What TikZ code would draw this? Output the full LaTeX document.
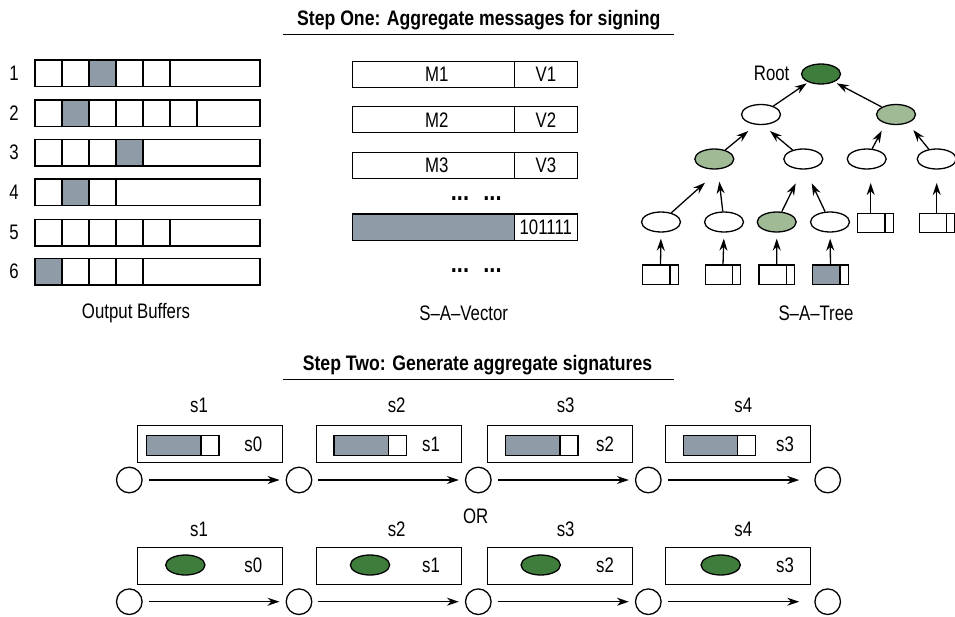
\documentclass[tikz,border=0pt]{standalone}
\usepackage{fontspec}
\setmainfont[FakeStretch=0.8, BoldFeatures={FakeStretch=0.84}]{Liberation Sans}
\usetikzlibrary{arrows.meta,shapes.geometric}
\definecolor{bufgray}{RGB}{143,156,168}
\definecolor{leafgreen}{RGB}{160,186,150}
\definecolor{rootgreen}{RGB}{62,125,60}
\begin{document}
\begin{tikzpicture}[x=1pt,y=-1pt,line width=1.3pt,
  txt/.style={inner sep=0pt, font=\fontsize{21}{23}\selectfont},
  head/.style={inner sep=0pt, font=\fontsize{21}{23}\selectfont\bfseries},
  dotgrp/.style={inner sep=0pt, anchor=base, font=\fontsize{26}{26}\selectfont\bfseries},
  arr/.style={-{Stealth[length=12pt,width=8pt]}},
  oval/.style={draw, ellipse, minimum width=39pt, minimum height=20pt, inner sep=0pt, fill=white},
  ovallight/.style={oval, fill=leafgreen},
  ovaldark/.style={oval, fill=rootgreen},
  leaf/.style={draw, fill=white, minimum width=35.6pt, minimum height=19.5pt, inner sep=0pt,
    path picture={\draw ([xshift=-8.4pt]path picture bounding box.north east) -- ([xshift=-8.4pt]path picture bounding box.south east);}},
  leafshaded/.style={draw, fill=white, minimum width=35.6pt, minimum height=19.5pt, inner sep=0pt,
    path picture={\fill[bufgray] (path picture bounding box.north west) rectangle ([xshift=-8.4pt]path picture bounding box.south east);
      \draw ([xshift=-8.4pt]path picture bounding box.north east) -- ([xshift=-8.4pt]path picture bounding box.south east);}},
  sigbar/.style={draw, fill=white, minimum width=72.3pt, minimum height=20pt, inner sep=0pt,
    path picture={\fill[bufgray] (path picture bounding box.north west) rectangle ([xshift=-18pt]path picture bounding box.south east);
      \draw ([xshift=-18pt]path picture bounding box.north east) -- ([xshift=-18pt]path picture bounding box.south east);}},
  sigbox/.style={draw, minimum width=145pt, minimum height=36.6pt, inner sep=0pt},
  sigoval/.style={draw, ellipse, fill=rootgreen, minimum width=39.3pt, minimum height=20pt, inner sep=0pt},
  ring/.style={draw, circle, minimum size=25.6pt, inner sep=0pt}
]
\useasboundingbox (0,0) rectangle (955,616);

% ---------- Step one heading ----------
\node[head] (h1) at (478.8,20) {Step One: Aggregate messages for signing};
\draw (283.3,34.3) -- (674,34.3);

% ---------- Output buffers ----------
\foreach \r/\t/\n/\s in {1/60/5/3, 2/100/6/2, 3/139.5/4/4, 4/179/3/2, 5/219.5/5/0, 6/258.5/4/1} {
  \node[txt] (num\r) at (14,\t+13.25) {\r};
  \ifnum\s>0
    \fill[bufgray] (8+27*\s,\t) rectangle ++(27,26.5);
  \fi
  \draw (35,\t) rectangle (260,\t+26.5);
  \foreach \k in {1,...,\n} \draw (35+27*\k,\t) -- ++(0,26.5);
}
\node[txt] (bufcap) at (136,313) {Output Buffers};

% ---------- S-A-Vector ----------
\foreach \i/\t in {1/61.7, 2/106.7, 3/152.3} {
  \draw (352.7,\t) rectangle (577.3,\t+26);
  \draw (514.3,\t) -- ++(0,26);
  \node[txt] (m\i) at (436.7,\t+13) {M\i};
  \node[txt] (v\i) at (546,\t+13) {V\i};
}
\filldraw[fill=bufgray] (352.7,214) rectangle (514.3,240.7);
\draw (514.3,214) rectangle (577.3,240.7);
\node[txt] (vec) at (545.8,227.3) {101111};
\node[dotgrp] (d1) at (460,200.5) {...};
\node[dotgrp] (d2) at (492.5,200.5) {...};
\node[dotgrp] (d3) at (460,272.5) {...};
\node[dotgrp] (d4) at (492.5,272.5) {...};
\node[txt] (veccap) at (463.7,313) {S--A--Vector};

% ---------- S-A-Tree ----------
\node[ovaldark] (root) at (821,74) {};
\node[txt, anchor=east] (rootlbl) at (790,73) {Root};
\node[oval] (la) at (761,114.5) {};
\node[ovallight] (lb) at (896,114.5) {};
\node[ovallight] (na) at (714.3,159) {};
\node[oval] (nb) at (803.3,159) {};
\node[oval] (nc) at (866.7,159) {};
\node[oval] (nd) at (936.7,159) {};
\node[oval] (ne) at (661,222) {};
\node[oval] (nf) at (724,222) {};
\node[ovallight] (ng) at (776.7,222) {};
\node[oval] (nh) at (830,222) {};
\node[leaf] (bc) at (875.5,223) {};
\node[leaf] (bd) at (937.2,223) {};
\node[leaf] (be) at (660.5,274.8) {};
\node[leaf] (bf) at (723,274.8) {};
\node[leaf] (bg) at (776.8,274.8) {};
\node[leafshaded] (bh) at (830.5,274.8) {};
\node[txt] (treecap) at (816,313) {S--A--Tree};

% arrow tips stop short of the parent
\coordinate (tea) at (705,182.7);
\coordinate (tfa) at (719.3,181.7);
\coordinate (tgb) at (795.7,183.3);
\coordinate (thb) at (811.7,183.3);
\coordinate (tcc) at (870.7,183);
\coordinate (tdd) at (936.7,183);
\coordinate (tal) at (748.3,131);
\coordinate (tbl) at (770,131);
\coordinate (tcr) at (881.7,130.7);
\coordinate (tdr) at (913.3,130);
\coordinate (tlr) at (806.7,83.3);
\coordinate (trr) at (836.7,83.3);

\foreach \b/\n in {be/ne, bf/nf, bg/ng, bh/nh}
  \draw[arr, shorten >=6pt] (\b.north) -- (\n.south);
\draw[arr] (bc.north -| tcc) -- (tcc);
\draw[arr] (bd.north -| tdd) -- (tdd);
\draw[arr] (ne) -- (tea);
\draw[arr] (nf) -- (tfa);
\draw[arr] (ng) -- (tgb);
\draw[arr] (nh) -- (thb);
\draw[arr] (na) -- (tal);
\draw[arr] (nb) -- (tbl);
\draw[arr] (nc) -- (tcr);
\draw[arr] (nd) -- (tdr);
\draw[arr] (la) -- (tlr);
\draw[arr] (lb) -- (trr);

% ---------- Step two heading ----------
\node[head] (h2) at (477.5,365) {Step Two: Generate aggregate signatures};
\draw (283.3,379.3) -- (674,379.3);

% ---------- Signature chains ----------
\foreach \i/\x in {1/129.3, 2/299, 3/478.3, 4/648.3, 5/827.7} {
  \node[ring] (a\i) at (\x,480) {};
  \node[ring] (b\i) at (\x,601.7) {};
}
\foreach \i/\j in {1/2, 2/3, 3/4} {
  \draw[arr, shorten <=6pt, shorten >=6pt] (a\i) -- (a\j);
  \draw[arr, shorten <=6pt, shorten >=6pt] (b\i) -- (b\j);
}
\draw[arr, shorten <=6pt, shorten >=15pt] (a4) -- (a5);
\draw[arr, shorten <=6pt, shorten >=15pt] (b4) -- (b5);

\foreach \i/\bx/\barx/\tx/\lx/\ox/\prev in {
    1/209.8/182.85/253.3/199/185.3/0,
    2/388.85/370.15/431/396.7/370/1,
    3/559.8/541.85/605/565.7/540.7/2,
    4/738.2/719.3/785/743.3/720.7/3} {
  \node[sigbox] (sa\i) at (\bx,444) {};
  \node[sigbar] (ba\i) at (\barx,445.7) {};
  \node[txt] (pa\i) at (\tx,444) {s\prev};
  \node[txt] (ta\i) at (\lx,405) {s\i};
  \node[sigbox] (sb\i) at (\bx,566) {};
  \node[sigoval] (ob\i) at (\ox,565) {};
  \node[txt] (pb\i) at (\tx,565) {s\prev};
  \node[txt] (tb\i) at (\lx,529) {s\i};
}
\node[txt] (or) at (475.7,516) {OR};
\end{tikzpicture}
\end{document}
